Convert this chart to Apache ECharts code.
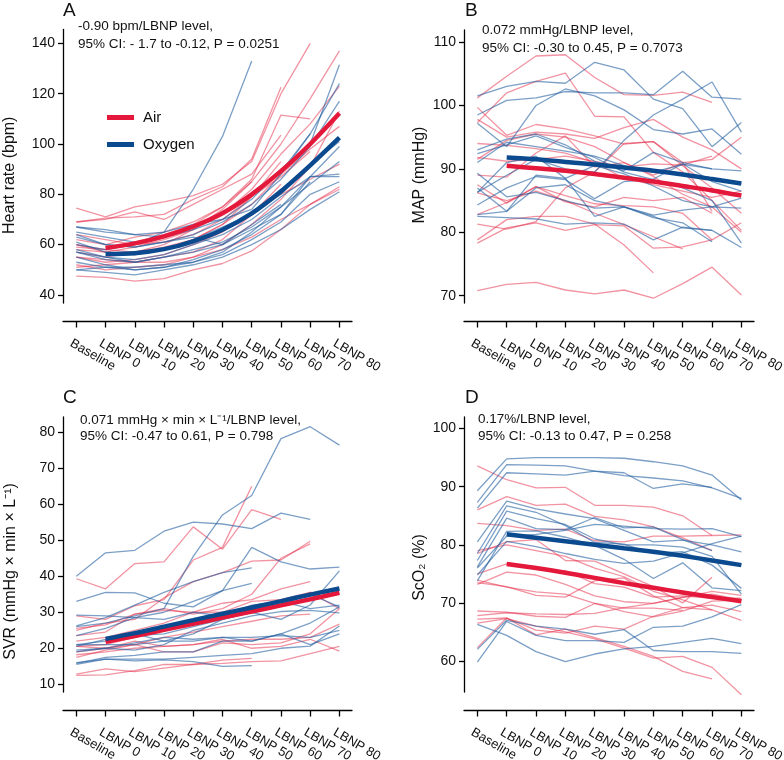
<!DOCTYPE html>
<html>
<head>
<meta charset="utf-8">
<script src="https://cdn.jsdelivr.net/npm/echarts@6/dist/echarts.min.js"></script>
<style>
html,body{margin:0;padding:0;background:#fff;}
#chart{width:784px;height:760px;}
</style>
</head>
<body>
<div id="chart"></div>
<script>
// ---------- categories / ticks ----------
const categories = ['Baseline','LBNP 0','LBNP 10','LBNP 20','LBNP 30','LBNP 40','LBNP 50','LBNP 60','LBNP 70','LBNP 80'];
const hrTicks = [40, 60, 80, 100, 120, 140];
const mapTicks = [70, 80, 90, 100, 110];
const svrTicks = [10, 20, 30, 40, 50, 60, 70, 80];
const sco2Ticks = [60, 70, 80, 90, 100];

// ---------- A: Heart rate ----------
const hrAir = [
  [74.5, 71, 75, 77, 79.5, 84, 93, 120, 140],
  [69, 70, 73, 70, 76, 82, 88, 103.5],
  [69, 70.5, 71, 72, 78, 83, 94, 122.5],
  [62, 60, 63, 65, 69, 75, 86, 111.5, 110],
  [60, 58, 61, 64, 68, 75, 85, 100, 118, 137],
  [58, 57, 59, 62, 66, 72, 82, 96, 108, 123],
  [57, 55, 57, 59, 62, 68, 76, 88, 98, 107],
  [55, 53, 54, 56, 60, 65, 73, 80, 86, 92],
  [52, 50, 51, 52, 55, 58, 63, 70, 76, 83],
  [47.5, 47, 45.5, 46.5, 50, 52.5, 57.5, 66, 76, 82],
  [60, 57, 56, 58, 62, 68, 79, 87, 97],
  [55, 54, 53, 55, 57, 62, 72, 84],
  [64, 62, 60, 61, 64, 70, 79, 93],
  [59, 58, 57, 60, 66, 74, 85],
  [51, 52, 53, 53, 55, 60, 68, 78, 91, 113]
];
const hrOxy = [
  [60, 58, 60, 65, 82, 103, 133],
  [67, 66, 64, 65, 68, 70, 78, 90, 100, 131.5],
  [65, 63, 61, 63, 67, 72, 80, 89, 104, 124],
  [63, 60, 59, 61, 64, 69, 76, 86, 99, 117],
  [61, 57, 56, 58, 62, 67, 72, 80, 92, 101],
  [58, 55, 54, 56, 60, 64, 70, 79, 87, 99],
  [57, 55, 53, 55, 58, 61, 67, 75, 84, 93],
  [55, 52, 50, 51, 54, 58, 64, 72, 87, 87],
  [50, 49, 48, 50, 52, 55, 60, 66, 74, 81],
  [50, 51, 51, 52, 53, 57, 65, 75, 87, 88],
  [67, 65, 64, 63, 66, 70, 74, 88, 104],
  [57, 54, 53, 55, 57, 60, 66, 72, 85],
  [64, 60, 59, 61, 63, 60, 68, 76],
  [53, 51, 50, 51, 53, 56, 62, 69, 80, 85]
];
const hrAirMean = [58.7, 60.5, 63.3, 67.2, 72.5, 80.0, 89.2, 100.0, 112.2];
const hrOxyMean = [56.3, 56.6, 58.2, 61.3, 65.9, 72.4, 81.2, 91.5, 102.5];

// ---------- B: MAP ----------
const mapAir = [
  [101.2, 104.6, 107.8, 108, 104.4, 101.7, 101.6, 102.1, 100.5],
  [97.3, 102, 103.8, 105.1, 98.3, 98.2, 92.6, 89.5, 85, 80.3],
  [99.7, 95.3, 97, 96.3, 95.2, 93.9, 94.3, 90.5, 87, 83],
  [91.5, 94.5, 95.5, 95, 93.5, 91, 88.8, 86, 84, 80],
  [89, 88.7, 92.5, 95.2, 90.3, 91, 89, 91, 91.5, 95],
  [87.5, 84.6, 87.2, 85.8, 84.5, 84.2, 84, 83, 78.8],
  [82.8, 84.7, 87.2, 84.8, 84, 85.5, 85, 85.5, 83],
  [81.3, 80.5, 81.7, 87, 89.5, 94, 94.3, 91, 83.3],
  [78.8, 82, 82.5, 82.5, 81.3, 78, 73.6],
  [78.3, 80.7, 81.5, 80.3, 81.2, 81, 77.5, 77.7, 78.8, 81.5],
  [70.8, 71.8, 72.1, 70.9, 70.3, 70.9, 69.6, 71.9, 74.5, 70.1],
  [86.2, 85, 86.5, 85, 83, 81.2, 79.3, 77.4],
  [91.8, 91.2, 91.5, 92, 91.2, 90.3, 90.8, 90.6, 92],
  [94, 93.7, 93.2, 92.5, 91, 88.5, 87.5, 86.5, 85.5, 86.5],
  [97.8, 95, 95.8, 95.5, 94.8, 96.5, 97.8, 95, 93, 90]
];
const mapOxy = [
  [101.5, 103, 103.8, 103.5, 106.8, 105.6, 101, 99.5, 93.5, 97.3],
  [98.5, 100.8, 101.2, 102.2, 102, 102, 101.7, 105.4, 101.3, 101],
  [97.2, 93.5, 100, 102.6, 101.5, 99.3, 96.2, 95.5, 96.3, 92.3],
  [86.3, 89, 91.5, 90, 89.5, 94.5, 98.5, 101, 103.7, 95.8],
  [93, 94.7, 95.5, 93.8, 91.2, 89.7, 92.6, 91, 90, 89.7],
  [91, 94.2, 93.5, 92.8, 92, 90.5, 89.5, 90.7, 90],
  [87, 83.3, 89, 88.5, 82.5, 84, 82.7, 83.5, 84, 83.8],
  [82.5, 82.3, 82.1, 81.3, 81.5, 81.3, 78.8, 80.8, 80.3, 77.6],
  [82.8, 83.3, 87, 87.5, 85, 84, 82.3, 81.5, 78.5],
  [84.3, 87, 88.8, 88.3, 85.3, 88, 88.4, 90.8, 88, 86.5],
  [86.3, 91, 92, 88.5, 90.5, 89.2, 87.3, 85, 84, 85.4],
  [92.4, 93.8, 95.2, 93.4, 91.8, 89.5, 88.3, 87, 85, 78.3],
  [89.3, 85.6, 86.3, 85, 83.8, 84, 82.5, 80.7, 80.3]
];
const mapAirMean = [90.5, 90.1, 89.7, 89.2, 88.6, 88.0, 87.3, 86.6, 85.8];
const mapOxyMean = [91.8, 91.5, 91.1, 90.7, 90.2, 89.7, 89.1, 88.4, 87.7];

// ---------- C: SVR ----------
const svrAir = [
  [39.3, 36.5, 43.5, 44, 53.7, 47.5, 58.5, 55.8],
  [29, 28, 31.8, 33.5, 44.5, 48, 65],
  [25, 27, 28, 34, 38.5, 41, 44.2, 44.5, 49.7],
  [23.5, 24.5, 29.5, 31, 29.5, 31, 35, 45, 49],
  [22, 23, 25, 27, 30, 32.5, 33.5, 36.5, 38.5],
  [20.5, 21, 23, 25, 27, 28.5, 30, 32, 35.5, 31],
  [19, 20, 21, 23, 24.5, 26, 27.5, 29, 29.5],
  [18.2, 19, 20, 20.5, 21, 22, 22.5, 22.5, 23, 26.7],
  [17.5, 19.5, 21, 19, 19, 21.5, 21, 21.5, 24, 31],
  [12.8, 14.3, 13.5, 14.5, 15.5, 15.8, 16.3, 16.5, 18.5, 20.5],
  [12.5, 12.6, 13.8, 15.5, 15.5, 16.7, 17.2],
  [20.5, 20, 22, 20.5, 21, 22.5, 20, 20.5, 22.5, 19.2],
  [25.5, 26.5, 29.5, 30.5, 30, 30, 33, 33.5, 35.5, 35]
];
const svrOxy = [
  [40, 46.5, 47.2, 52.5, 55, 54.5, 53.2, 57.5, 55.8],
  [33, 35.5, 35.4, 32.5, 31.5, 36, 48, 44, 42, 42.5],
  [26, 27, 29, 31, 45.5, 57, 62.4, 78.2, 81.5, 76.4],
  [26.2, 28.5, 32, 35.5, 38.5, 41, 42.3],
  [23.5, 25.5, 28.5, 30, 33, 36, 38],
  [21, 22, 24, 22, 24, 28, 30, 28, 32, 41.5],
  [29.2, 29, 28.5, 28, 30, 29, 32, 33, 31, 32],
  [21, 21, 21, 22, 22, 23, 23, 23.5, 23, 25],
  [19.5, 20, 21.5, 23, 22.5, 23, 22, 24, 21, 24],
  [15.8, 17.5, 18, 19, 19, 22, 22, 24, 27, 31.5],
  [15.5, 17, 16.5, 16.8, 16.3, 15, 15.2],
  [16, 17, 17, 17, 17.5, 18, 18.5, 20, 20.6, 26.2],
  [19, 20, 19.5, 21, 25, 27, 29, 30.2, 30.5, 29.8],
  [20.5, 22.5, 23.5, 24, 26, 28, 30, 32, 35, 31.5]
];
const svrAirMean = [21.8, 23.4, 25.1, 26.8, 28.5, 30.2, 31.9, 33.6, 35.4];
const svrOxyMean = [22.6, 24.2, 26.0, 27.8, 29.6, 31.3, 33.1, 34.9, 36.6];

// ---------- D: ScO2 ----------
const sco2Air = [
  [93.6, 91.2, 89.8, 89.9, 86.8, 86.8, 86.5, 85, 81.6],
  [86, 88.3, 86.8, 87, 84.9, 84.3, 83.1, 81.2, 79],
  [83.7, 83.3, 82.5, 82.7, 80.7, 80.5, 81.5, 81.5, 81.6, 81.7],
  [78.5, 80.5, 80.9, 77.3, 77.2, 75, 72.8, 70, 74.4],
  [75, 76.7, 75.8, 75.5, 73.3, 72.7, 71, 71.2, 70.8, 70.8],
  [73.9, 72.7, 71.9, 71.5, 69.9, 69.1, 69.1, 68.7],
  [73.5, 72.8, 71.3, 71, 73.8, 74.3, 71.2, 69.2, 68.8, 67],
  [73.2, 75.3, 74.8, 73.2, 71.2, 70.2, 69.9, 70.9, 72, 71.3],
  [68.6, 68.4, 67.7, 67.5, 69.9, 68.5, 67.6, 68.6, 70.3, 70.5],
  [67.8, 68.3, 68.1, 68, 68.2, 69.2, 69.9, 71, 71.5, 70.5],
  [67.2, 67.4, 64.5, 65.5, 64, 62.5, 60.8, 58.2, 56.9],
  [66.5, 67.3, 66, 65, 63.8, 62.2, 60.5, 60.8, 58.9, 54.2],
  [62.3, 67.4, 65.3, 64.8, 66, 65.5, 67.7, 69.2, 69.6, 68.5],
  [79, 80, 79, 78, 76, 74.5, 72, 70.5, 68.8]
];
const sco2Oxy = [
  [89.3, 94.8, 95, 95, 95, 94.9, 94.3, 93.6, 92, 87.7],
  [87.3, 93.8, 93.7, 93.6, 92.7, 92.4, 89.7, 90.5, 89.9],
  [86.3, 92.4, 92.2, 92, 92.7, 91.9, 91.5, 91, 89.8, 88],
  [80.5, 87.5, 86.2, 85.3, 84.5, 82.5, 80.5, 80.8, 80, 78.8],
  [78.5, 86.7, 85.6, 83.3, 80.4, 80.1, 78.5, 78.8, 76.5, 72.5],
  [77.3, 85.8, 84.5, 83.5, 81, 80, 80, 79.6, 78, 71.5],
  [76.2, 84.6, 82.8, 82.6, 84.7, 82.9, 83.1, 80.9, 79],
  [73.8, 82.3, 82.4, 81.3, 79.9, 77.5, 74.2, 76.9, 72.6, 72.1],
  [74.8, 80.6, 79.7, 78.5, 77.5, 76.8, 77.2, 78.6, 80.2, 81.5],
  [76, 81.5, 81.8, 82.5, 83.5, 83.2, 82.8, 82.7, 82.8, 81.4],
  [66.3, 64.4, 61.6, 59.9, 61.2, 62.1, 62.5, 63.2, 63.9, 63],
  [62, 67, 66, 65.5, 64.6, 65.4, 61.8, 61.6, 61.6, 61.3],
  [59.8, 66.8, 64.4, 63.5, 63.5, 63.2, 65.8, 66, 67.6, 69.7]
];
const sco2AirMean = [76.7, 76.0, 75.2, 74.3, 73.4, 72.6, 71.8, 71.0, 70.3];
const sco2OxyMean = [81.8, 81.2, 80.6, 80.0, 79.4, 78.8, 78.1, 77.3, 76.5];

// ---------- styling ----------
const RED = '#e3183a';
const BLUE = '#0b4a8e';
const RED_THIN = 'rgba(230, 40, 70, 0.5)';
const BLUE_THIN = 'rgba(35, 95, 160, 0.6)';
const FONT = 'Liberation Sans, Arial, Helvetica, sans-serif';
const TXT = '#111';

const panels = [
  {grid:{left:63, top:29.5, width:289, height:273.5}, min:36.8, max:145.5, ticks:hrTicks,
   name:'Heart rate (bpm)', gap:45, pad:18, air:hrAir, oxy:hrOxy, airMean:hrAirMean, oxyMean:hrOxyMean},
  {grid:{left:464, top:30, width:290, height:273}, min:68.85, max:111.9, ticks:mapTicks,
   name:'MAP (mmHg)', gap:36, pad:17, air:mapAir, oxy:mapOxy, airMean:mapAirMean, oxyMean:mapOxyMean},
  {grid:{left:63, top:417, width:289, height:275}, min:7.86, max:84.2, ticks:svrTicks,
   name:'SVR (mmHg × min × L⁻¹)', gap:44, pad:34, air:svrAir, oxy:svrOxy, airMean:svrAirMean, oxyMean:svrOxyMean},
  {grid:{left:464, top:417, width:290, height:275}, min:54.66, max:102, ticks:sco2Ticks,
   name:'ScO₂ (%)', gap:36, pad:26, air:sco2Air, oxy:sco2Oxy, airMean:sco2AirMean, oxyMean:sco2OxyMean}
];

const idx = categories.map((c, i) => i);
const labelPos = idx.map(i => i - 0.18);   // label anchors sit slightly left of each tick
const grids = [], xAxes = [], yAxes = [], series = [];

panels.forEach((p, k) => {
  grids.push(Object.assign({containLabel:false, outerBoundsMode:'none'}, p.grid));
  xAxes.push({
    gridIndex:k, type:'value', min:-0.455, max:9.43, offset:18.5,
    axisLine:{show:true, onZero:false, lineStyle:{color:'#000', width:1.3}},
    axisTick:{show:true, customValues:idx, length:6, inside:false, lineStyle:{color:'#000', width:1.3}},
    axisLabel:{show:true, customValues:labelPos, rotate:-30, margin:21, fontSize:13, fontFamily:FONT, color:TXT,
      formatter:v => categories[Math.round(v)]},
    splitLine:{show:false}
  });
  yAxes.push({
    gridIndex:k, type:'value', min:p.min, max:p.max,
    name:p.name, nameLocation:'middle', nameGap:p.gap,
    nameTextStyle:{fontSize:16, fontFamily:FONT, color:TXT, padding:[0, p.pad, 0, 0]},
    axisLine:{show:true, onZero:false, lineStyle:{color:'#000', width:1.3}},
    axisTick:{show:true, customValues:p.ticks, length:5, lineStyle:{color:'#000', width:1.3}},
    axisLabel:{show:true, customValues:p.ticks, margin:8, fontSize:14, fontFamily:FONT, color:TXT},
    splitLine:{show:false}
  });
  const thin = (arr, col, label) => arr.forEach((vals, j) => series.push({
    type:'line', name:label + ' subject ' + (j+1), xAxisIndex:k, yAxisIndex:k,
    data: vals.map((v, i) => [i, v]), showSymbol:false, symbol:'none', clip:false,
    lineStyle:{color:col, width:1.3}, itemStyle:{color:col}, z:2, silent:true
  }));
  thin(p.air, RED_THIN, 'Air');
  thin(p.oxy, BLUE_THIN, 'Oxygen');
  const thick = (vals, col, label, z) => series.push({
    type:'line', name:label, xAxisIndex:k, yAxisIndex:k,
    data: vals.map((v, i) => [i + 1, v]), showSymbol:false, symbol:'none', smooth:0.3, clip:false,
    lineStyle:{color:col, width:4.5, cap:'butt'}, itemStyle:{color:col}, z:z
  });
  thick(p.airMean, RED, 'Air', 5);
  thick(p.oxyMean, BLUE, 'Oxygen', 6);
});

const annot = (left, top, lh, text) => ({
  left, top, text,
  textStyle:{fontSize:13.5, fontWeight:'normal', fontFamily:FONT, color:TXT, lineHeight:lh}
});
const letter = (left, top, text) => ({
  left, top, text, textStyle:{fontSize:19, fontWeight:'normal', fontFamily:FONT, color:TXT}
});

const option = {
  animation:false,
  backgroundColor:'#fff',
  title:[
    letter(58, -4, 'A'), letter(460, -4, 'B'), letter(58, 383, 'C'), letter(460, 383, 'D'),
    annot(73, 12, 18, '-0.90 bpm/LBNP level,\n95% CI: - 1.7 to -0.12, P = 0.0251'),
    annot(477, 17, 17.5, '0.072 mmHg/LBNP level,\n95% CI: -0.30 to 0.45, P = 0.7073'),
    annot(75, 407, 16, '0.071 mmHg × min × L⁻¹/LBNP level,\n95% CI: -0.47 to 0.61, P = 0.798'),
    annot(473, 406, 17, '0.17%/LBNP level,\n95% CI: -0.13 to 0.47, P = 0.258')
  ],
  legend:{
    data:['Air', 'Oxygen'], left:102, top:105, orient:'vertical',
    icon:'rect', itemWidth:27, itemHeight:5, itemGap:12,
    textStyle:{fontSize:15, fontFamily:FONT, color:TXT, padding:[0,0,0,4]}
  },
  grid:grids, xAxis:xAxes, yAxis:yAxes, series:series
};

const chart = echarts.init(document.getElementById('chart'), null, {renderer:'canvas'});
chart.setOption(option);
</script>
</body>
</html>
